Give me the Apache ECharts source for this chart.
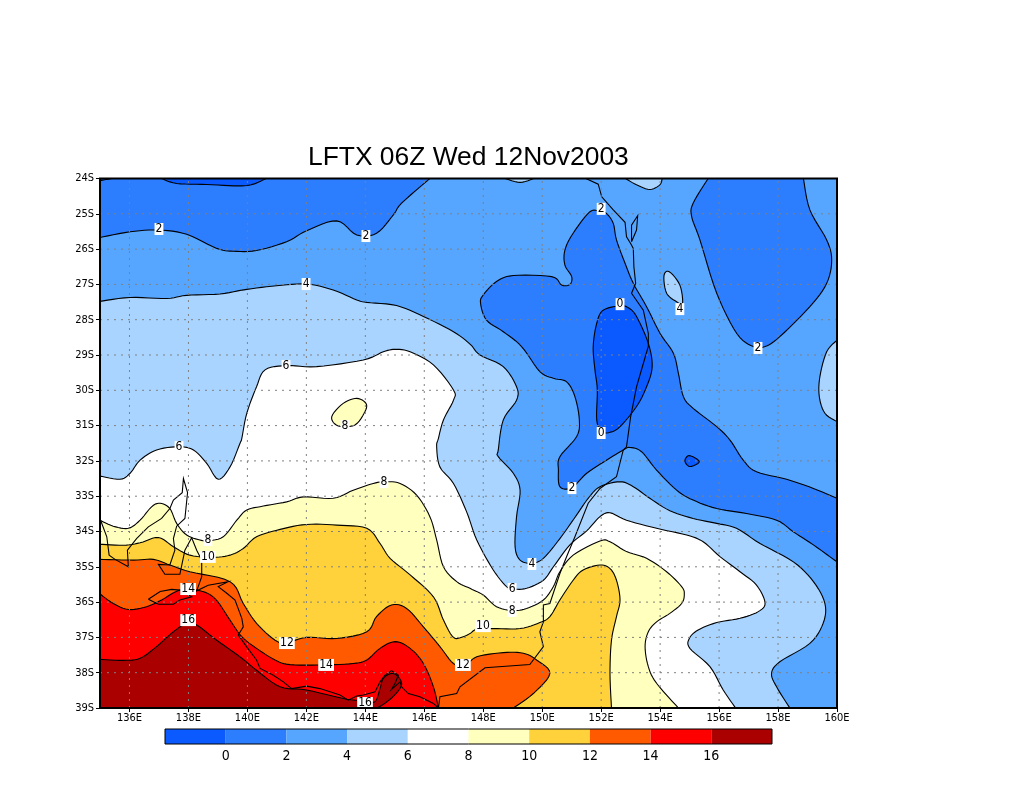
<!DOCTYPE html>
<html>
<head>
<meta charset="utf-8">
<title>LFTX 06Z Wed 12Nov2003</title>
<script src="https://cdn.jsdelivr.net/npm/echarts@6/dist/echarts.min.js"></script>
<style>
  html, body { margin: 0; padding: 0; background: #fff; }
  #chart { width: 1024px; height: 800px; }
</style>
</head>
<body>
<div id="chart"></div>
<script>
// tick labels
var lonTicks = [136, 138, 140, 142, 144, 146, 148, 150, 152, 154, 156, 158, 160];
var latTicks = [-25, -26, -27, -28, -29, -30, -31, -32, -33, -34, -35, -36, -37, -38];
var colorLevels = [-2, 0, 2, 4, 6, 8, 10, 12, 14, 16, 18];
var colorBins = ["#0a5aff", "#2d7dff", "#56a5ff", "#a9d4ff", "#ffffff", "#ffffbe", "#ffd23c", "#ff5a00", "#ff0000", "#aa0000"];

// contour regions, [lon, lat]
var below0Top = [[137.09,-24],[137.6,-24.14],[138.62,-24.17],[139.69,-24.21],[140.2,-24.16],[140.63,-24]];
var below0Corner = [[135,-24],[135,-24.06],[135.4,-24]];
var below0Centre = [[152.64,-27.61],[152.07,-27.73],[151.85,-28.1],[151.73,-28.76],[151.79,-29.43],[151.87,-29.99],[151.85,-30.84],[152.02,-31.17],[152.3,-31.19],[152.64,-31.03],[153.2,-30.46],[153.54,-29.9],[153.73,-29.33],[153.6,-28.67],[153.2,-27.91],[152.92,-27.66]];
var below0Small = [[154.99,-31.85],[154.84,-32],[155.01,-32.16],[155.33,-32.02]];

var below2West = [[135,-25.67],[136.02,-25.51],[136.98,-25.46],[137.94,-25.58],[138.96,-25.98],[139.52,-26.06],[140.31,-26.04],[141.33,-25.79],[142.01,-25.48],[143.03,-25.2],[143.71,-25.6],[144.38,-25.55],[144.95,-25.03],[145.23,-24.7],[146.19,-24],[135,-24]];
var below2Centre = [[151.96,-24.94],[151.62,-24.94],[151.05,-25.55],[150.77,-26.03],[150.77,-26.45],[151,-26.78],[150.94,-27],[150.66,-27.02],[150.32,-26.78],[149.02,-26.75],[148.45,-26.92],[148,-27.3],[147.91,-27.54],[148.11,-28.01],[148.68,-28.34],[149.3,-28.76],[149.92,-29.47],[150.38,-29.66],[150.83,-29.76],[151.11,-30.18],[151.26,-30.84],[151.17,-31.31],[150.6,-31.88],[150.55,-32.26],[150.6,-32.73],[151,-32.76],[151.51,-32.35],[152.18,-31.98],[152.75,-31.69],[152.98,-31.62],[153.37,-31.74],[153.88,-32.26],[154.56,-32.83],[155.12,-33.11],[155.92,-33.35],[156.93,-33.49],[157.95,-33.68],[158.52,-34.01],[159.2,-34.38],[160,-34.86],[160,-33.06],[159.2,-32.78],[158.29,-32.52],[157.27,-32.31],[156.82,-31.98],[156.37,-31.41],[155.92,-31.03],[155.12,-30.51],[154.79,-30.18],[154.62,-29.52],[154.45,-28.95],[154,-28.39],[153.54,-27.63],[153.09,-26.97],[152.81,-26.4],[152.52,-25.74],[152.41,-25.27],[152.18,-24.99]];
var below2East = [[155.63,-24],[155.12,-24.7],[155.07,-25.08],[155.35,-25.74],[155.92,-27.25],[156.6,-28.39],[157.16,-28.76],[157.56,-28.76],[158.06,-28.48],[159.08,-27.63],[159.65,-26.97],[159.82,-26.31],[159.65,-25.74],[159.08,-24.89],[158.86,-24]];

var above4Main = [[135,-27.48],[136.02,-27.37],[137.26,-27.4],[137.94,-27.31],[139.07,-27.27],[139.98,-27.14],[140.99,-27.04],[142.01,-26.99],[142.91,-27.16],[143.71,-27.44],[144.05,-27.51],[145.06,-27.6],[145.97,-27.91],[146.99,-28.34],[147.55,-28.69],[147.89,-29],[148.68,-29.33],[149.13,-29.9],[149.13,-30.28],[148.68,-30.84],[148.51,-31.69],[148.51,-31.88],[149.02,-32.35],[149.25,-32.83],[149.13,-33.58],[149.08,-34.43],[149.25,-34.81],[149.64,-34.9],[150.04,-34.76],[150.6,-34.2],[151.17,-33.53],[151.56,-33.06],[151.96,-32.73],[152.64,-32.59],[153.09,-32.73],[153.65,-33.06],[154.33,-33.41],[155.12,-33.63],[155.92,-33.77],[156.59,-33.91],[157.39,-34.34],[158.52,-34.86],[159.2,-35.42],[159.59,-36.04],[159.53,-36.6],[159.08,-37.17],[158.06,-37.69],[157.78,-38.02],[157.95,-38.4],[158.4,-39],[135,-39]];
var above4TopA = [[148.74,-24],[149.25,-24.11],[149.72,-24]];
var above4TopB = [[152.83,-24],[153.2,-24.18],[153.65,-24.31],[153.99,-24.18],[154.07,-24]];
var above4Small = [[154.31,-26.64],[154.13,-26.76],[154.22,-27.25],[154.56,-27.49],[154.76,-27.54],[154.67,-27.02]];
var above4East = [[160,-28.58],[159.65,-28.91],[159.42,-29.61],[159.4,-30.18],[159.59,-30.65],[160,-30.89]];

var above6Main = [[135,-32.43],[135.68,-32.52],[136.02,-32.35],[136.36,-31.98],[136.92,-31.69],[137.66,-31.6],[138.17,-31.69],[138.62,-32.07],[139.01,-32.52],[139.41,-32.17],[139.75,-31.5],[139.81,-31.36],[139.98,-30.65],[140.31,-29.9],[140.6,-29.42],[141.33,-29.3],[142.35,-29.33],[143.93,-29.14],[144.61,-28.91],[145.01,-28.84],[145.52,-28.91],[146.31,-29.28],[146.99,-29.99],[146.99,-30.28],[146.65,-30.84],[146.48,-31.36],[146.42,-31.6],[146.53,-32.17],[146.99,-32.64],[147.44,-33.45],[147.78,-34.24],[148.34,-35.09],[148.79,-35.56],[149.02,-35.63],[149.47,-35.61],[150.04,-35.38],[150.38,-35],[150.94,-34.38],[151.51,-33.98],[151.96,-33.58],[152.3,-33.47],[152.86,-33.68],[153.88,-33.91],[154.9,-34.1],[155.46,-34.29],[156.03,-34.71],[156.71,-35.14],[157.27,-35.52],[157.56,-36.02],[157.33,-36.27],[156.71,-36.46],[155.92,-36.58],[155.29,-36.79],[154.99,-37.03],[155.01,-37.31],[155.69,-37.83],[156.14,-38.49],[156.56,-39],[135,-39]];

var above8Main = [[135,-33.68],[135.45,-33.85],[135.96,-33.91],[136.36,-33.68],[136.75,-33.3],[137.04,-33.2],[137.37,-33.35],[137.6,-33.77],[137.94,-34.1],[138.39,-34.24],[138.67,-34.26],[139.18,-34.15],[139.64,-33.68],[139.98,-33.39],[140.54,-33.28],[141.33,-33.16],[141.9,-33.02],[142.91,-33.06],[143.59,-32.83],[144.27,-32.64],[144.67,-32.59],[145.18,-32.64],[145.74,-32.97],[146.19,-33.58],[146.42,-34.24],[146.65,-35],[147.1,-35.42],[147.55,-35.61],[148,-35.8],[148.45,-36.13],[149,-36.24],[149.47,-36.18],[150.04,-35.94],[150.38,-35.56],[150.6,-35.14],[151.05,-34.67],[151.96,-34.27],[152.3,-34.29],[152.86,-34.57],[153.54,-34.76],[154.22,-35.14],[154.73,-35.56],[154.82,-35.78],[154.73,-36.04],[154.33,-36.32],[153.88,-36.56],[153.6,-36.84],[153.49,-37.26],[153.6,-37.83],[153.88,-38.3],[154.62,-39],[135,-39]];
var above8Small = [[143.71,-30.23],[143.25,-30.37],[142.86,-30.75],[143.08,-31.01],[143.65,-30.98],[143.99,-30.6],[144.02,-30.37]];

var above10Main = [[135,-34.36],[135.79,-34.39],[136.36,-34.32],[136.98,-34.17],[137.49,-34.43],[138.05,-34.67],[138.84,-34.73],[139.41,-34.67],[139.86,-34.48],[140.31,-34.15],[141.11,-33.94],[142.01,-33.8],[143.03,-33.82],[144.05,-33.91],[144.5,-34.34],[144.84,-34.76],[145.52,-35.23],[146.31,-35.85],[146.65,-36.51],[146.99,-37],[147.32,-36.98],[147.55,-36.89],[147.78,-36.77],[148.34,-36.75],[149.25,-36.75],[149.92,-36.58],[150.26,-36.41],[150.6,-35.94],[151.05,-35.38],[151.39,-35.09],[151.96,-34.95],[152.3,-35.05],[152.52,-35.38],[152.64,-35.94],[152.52,-36.41],[152.35,-37.08],[152.3,-38.02],[152.35,-39],[135,-39]];

var above12Main = [[135,-34.79],[136.13,-34.81],[136.81,-34.79],[137.37,-34.95],[138.05,-35.14],[139.41,-35.42],[139.86,-36.04],[140.31,-36.6],[140.94,-37.08],[141.33,-37.15],[142.01,-37],[143.03,-37.03],[144.05,-36.84],[144.38,-36.41],[144.89,-36.08],[145.4,-36.18],[145.97,-36.7],[146.53,-37.26],[146.99,-37.74],[147.38,-37.8],[147.78,-37.55],[148.68,-37.43],[149.36,-37.45],[149.81,-37.64],[150.26,-38.02],[149.7,-38.59],[149.02,-39],[135,-39]];

var above14Main = [[135,-35.77],[135.45,-36.04],[135.96,-36.21],[136.58,-36.13],[137.09,-35.94],[137.71,-35.66],[138.39,-35.68],[138.9,-35.9],[139.41,-36.51],[139.81,-36.98],[140.31,-37.31],[140.94,-37.64],[141.44,-37.77],[142.58,-37.78],[143.59,-37.74],[144.05,-37.64],[144.5,-37.31],[145.01,-37.12],[145.52,-37.31],[145.97,-37.74],[146.31,-38.4],[146.48,-39],[135,-39]];

var above16Main = [[135,-37.62],[135.79,-37.65],[136.36,-37.59],[136.92,-37.26],[137.49,-36.84],[137.94,-36.6],[138.28,-36.65],[138.96,-37.08],[139.75,-37.55],[140.31,-37.93],[141.11,-38.4],[142.01,-38.49],[143.37,-38.75],[143.99,-38.78],[144.33,-38.82],[144.5,-38.45],[144.61,-38.16],[144.89,-38.02],[145.12,-38.12],[145.23,-38.35],[145,-38.63],[144.66,-38.87],[144.4,-39],[135,-39]];

// coastlines
var coastMain = [[135.02,-33.68],[135.23,-34.15],[135.31,-34.67],[135.51,-34.79],[135.96,-35],[135.93,-34.53],[136.24,-34.2],[136.64,-33.87],[137.09,-33.63],[137.37,-33.35],[137.49,-33.11],[137.79,-32.9],[137.83,-32.5],[137.97,-32.9],[137.88,-33.63],[137.6,-33.85],[137.49,-34.2],[137.54,-34.53],[137.37,-34.95],[136.98,-34.93],[137.2,-35.21],[137.71,-35.21],[137.88,-34.53],[138.11,-34.18],[138.28,-34.53],[138.45,-34.81],[138.45,-35.28],[138.28,-35.68],[138.67,-35.52],[139.35,-35.42],[139.01,-35.56],[139.3,-35.75],[139.58,-35.94],[139.81,-36.46],[139.86,-36.7],[139.69,-36.93],[139.97,-37.26],[140.31,-37.64],[140.43,-37.88],[140.88,-38.07],[141.22,-38.26],[141.5,-38.45],[142.01,-38.38],[142.46,-38.45],[143.14,-38.63],[143.42,-38.78],[143.71,-38.66],[143.93,-38.63],[144.33,-38.54],[144.5,-38.26],[144.67,-38.07],[144.89,-37.94],[145.12,-38.07],[145.01,-38.3],[144.89,-38.47],[145.18,-38.26],[145.23,-38.4],[145.46,-38.59],[145.85,-38.68],[146.31,-38.87],[146.48,-39],[146.53,-38.68],[147.1,-38.59],[147.21,-38.4],[148.06,-37.86],[149.58,-37.77],[150.04,-37.26],[149.92,-36.84],[150.04,-36.56],[150.04,-36.08],[150.26,-36.04],[150.6,-35.19],[150.83,-34.71],[151.11,-34.15],[151.56,-33.2],[151.96,-32.78],[152.52,-32.45],[152.75,-31.69],[152.86,-31.6],[153,-30.75],[153.2,-29.9],[153.43,-29.24],[153.6,-28.76],[153.6,-28.39],[153.43,-27.73],[153.03,-27.25],[153.17,-26.97],[153.11,-26.5],[153.09,-25.98],[153,-25.84],[152.86,-25.65],[152.81,-25.24],[152.41,-24.89],[152.02,-24.52],[151.9,-24.16],[151.48,-24]];
var coastFraser = [[153.03,-25.79],[153.03,-25.32],[153.24,-25.05],[153.2,-25.46],[153.03,-25.79]];
var coastKangaroo = [[136.64,-35.92],[137.04,-35.7],[137.43,-35.64],[137.71,-35.66],[138.11,-35.85],[137.71,-35.94],[137.49,-36.06],[136.98,-36.06],[136.64,-35.92]];

// contour labels
var labelLons = [137, 144.02, 141.99, 141.31, 143.31, 137.68, 144.63, 138.66, 138.66, 137.99, 137.99, 141.34, 142.67, 143.99, 147.31, 147.99, 148.98, 148.98, 149.65, 151.01, 152, 152.64, 154.67, 152, 157.32];
var labelLats = [-25.43, -25.63, -26.99, -29.31, -31.01, -31.61, -32.6, -34.24, -34.72, -35.63, -36.51, -37.16, -37.78, -38.86, -37.78, -36.68, -36.25, -35.63, -34.92, -32.77, -31.21, -27.56, -27.7, -24.86, -28.8];
var labelValues = [2, 2, 4, 6, 8, 6, 8, 8, 10, 14, 16, 12, 14, 16, 12, 10, 8, 6, 4, 2, 0, 0, 4, 2, 2];

var tickFont = "'DejaVu Sans Condensed', 'DejaVu Sans', sans-serif";

var myChart = echarts.init(document.getElementById("chart"));

// painted in this order, later regions sit on top
var regions = [
  [above4Main, 3], [above4TopA, 3], [above4TopB, 3], [above4Small, 3], [above4East, 3],
  [above6Main, 4],
  [above8Main, 5], [above8Small, 5],
  [above10Main, 6],
  [above12Main, 7],
  [above14Main, 8],
  [above16Main, 9],
  [below2West, 1], [below2Centre, 1], [below2East, 1],
  [below0Top, 0], [below0Corner, 0], [below0Centre, 0], [below0Small, 0]
];

var coasts = [coastMain, coastFraser, coastKangaroo];

// dotted grid lines
var gridSegments = [];
lonTicks.slice(0, -1).forEach(function (lon) {
  gridSegments.push([lon, -39, lon, -24]);
});
latTicks.forEach(function (lat) {
  gridSegments.push([135, lat, 160, lat]);
});

function toPoints(api, list) {
  return list.map(function (p) {
    return api.coord(p);
  });
}

function onFrame(a, b) {
  return (a[0] === b[0] && (a[0] === 135 || a[0] === 160)) ||
    (a[1] === b[1] && (a[1] === -24 || a[1] === -39));
}

// rounds the contour the way smooth:true would, runs along the plot edge stay straight
function smoothRing(pts) {
  var n = pts.length, out = [];
  for (var i = 0; i < n; i++) {
    var p1 = pts[i], p2 = pts[(i + 1) % n];
    out.push(p1);
    if (onFrame(p1, p2)) continue;
    var p0 = pts[(i - 1 + n) % n], p3 = pts[(i + 2) % n];
    if (onFrame(p0, p1)) p0 = p1;
    if (onFrame(p2, p3)) p3 = p2;
    for (var k = 1; k < 6; k++) {
      var t = k / 6, t2 = t * t, t3 = t2 * t;
      out.push([0, 1].map(function (d) {
        return 0.5 * (2 * p1[d] + (p2[d] - p0[d]) * t +
          (2 * p0[d] - 5 * p1[d] + 4 * p2[d] - p3[d]) * t2 +
          (3 * p1[d] - p0[d] - 3 * p2[d] + p3[d]) * t3);
      }));
    }
  }
  return out;
}

var option = {
  backgroundColor: "#fff",
  animation: false,
  title: {
    text: "LFTX 06Z Wed 12Nov2003",
    left: 308,
    top: 145,
    padding: 0,
    textStyle: {
      color: "#000",
      fontFamily: "Liberation Sans",
      fontSize: 26.4,
      fontWeight: "normal"
    }
  },
  grid: [
    { left: 100, top: 178.5, width: 737, height: 529.5 },
    { left: 165, top: 729, width: 607, height: 15 }
  ],
  xAxis: [
    {
      type: "value",
      gridIndex: 0,
      min: 135,
      max: 160,
      axisLine: { show: false },
      splitLine: { show: false },
      axisTick: { length: 4, customValues: lonTicks, lineStyle: { color: "#000" } },
      axisLabel: {
        customValues: lonTicks,
        margin: 5,
        color: "#000",
        fontFamily: tickFont,
        fontSize: 11,
        formatter: function (v) { return v + "E"; }
      }
    },
    {
      type: "value",
      gridIndex: 1,
      min: -2,
      max: 18,
      interval: 2,
      axisLine: { show: false },
      axisTick: { show: false },
      splitLine: { show: false },
      axisLabel: {
        showMinLabel: false,
        showMaxLabel: false,
        margin: 5,
        color: "#000",
        fontFamily: tickFont,
        fontSize: 14
      }
    }
  ],
  yAxis: [
    {
      type: "value",
      gridIndex: 0,
      min: -39,
      max: -24,
      interval: 1,
      axisLine: { show: false },
      splitLine: { show: false },
      axisTick: { show: true, length: 4, lineStyle: { color: "#000" } },
      axisLabel: {
        margin: 6,
        color: "#000",
        fontFamily: tickFont,
        fontSize: 11,
        formatter: function (v) { return -v + "S"; }
      }
    },
    { type: "value", gridIndex: 1, min: 0, max: 1, show: false }
  ],
  series: [
    // plot background, the 2 to 4 band
    {
      type: "custom",
      z: 1,
      data: [[135, -39, 160, -24]],
      renderItem: function (params, api) {
        var a = api.coord([api.value(0), api.value(1)]);
        var b = api.coord([api.value(2), api.value(3)]);
        return {
          type: "rect",
          shape: { x: a[0], y: b[1], width: b[0] - a[0], height: a[1] - b[1] },
          style: { fill: colorBins[2] }
        };
      }
    },
    // filled contour regions
    {
      type: "custom",
      z: 2,
      clip: true,
      data: regions.map(function (r) { return r[0][0]; }),
      renderItem: function (params, api) {
        var r = regions[params.dataIndex];
        return {
          type: "polygon",
          shape: { points: toPoints(api, smoothRing(r[0])) },
          style: { fill: colorBins[r[1]], stroke: "#000", lineWidth: 1.1 }
        };
      }
    },
    // coast
    {
      type: "custom",
      z: 3,
      clip: true,
      data: coasts.map(function (c) { return c[0]; }),
      renderItem: function (params, api) {
        return {
          type: "polyline",
          shape: { points: toPoints(api, coasts[params.dataIndex]) },
          style: { fill: null, stroke: "#000", lineWidth: 1.1 }
        };
      }
    },
    // grid lines
    {
      type: "custom",
      z: 4,
      data: gridSegments,
      renderItem: function (params, api) {
        var a = api.coord([api.value(0), api.value(1)]);
        var b = api.coord([api.value(2), api.value(3)]);
        return {
          type: "line",
          shape: { x1: a[0], y1: a[1], x2: b[0], y2: b[1] },
          style: { stroke: "#808080", lineWidth: 1, lineDash: [2, 5] }
        };
      }
    },
    // contour labels
    {
      type: "scatter",
      z: 5,
      symbolSize: 1,
      itemStyle: { color: "transparent", opacity: 1 },
      data: labelLons.map(function (lon, i) {
        return [lon, labelLats[i], labelValues[i]];
      }),
      label: {
        show: true,
        position: "inside",
        color: "#000",
        fontFamily: tickFont,
        fontSize: 12,
        lineHeight: 12,
        backgroundColor: "#fff",
        padding: [0, 1, 0, 1],
        formatter: function (p) { return p.value[2]; }
      }
    },
    // plot frame
    {
      type: "custom",
      z: 6,
      clip: false,
      data: [[135, -39, 160, -24]],
      renderItem: function (params, api) {
        var a = api.coord([api.value(0), api.value(1)]);
        var b = api.coord([api.value(2), api.value(3)]);
        return {
          type: "rect",
          shape: { x: a[0], y: b[1], width: b[0] - a[0], height: a[1] - b[1] },
          style: { fill: null, stroke: "#000", lineWidth: 2 }
        };
      }
    },
    // colour bar
    {
      type: "custom",
      xAxisIndex: 1,
      yAxisIndex: 1,
      z: 2,
      data: colorBins.map(function (c, i) { return [colorLevels[i], colorLevels[i + 1]]; }),
      renderItem: function (params, api) {
        var a = api.coord([api.value(0), 0]);
        var b = api.coord([api.value(1), 1]);
        return {
          type: "rect",
          shape: { x: a[0], y: b[1], width: b[0] - a[0], height: a[1] - b[1] },
          style: { fill: colorBins[params.dataIndex] }
        };
      }
    },
    {
      type: "custom",
      xAxisIndex: 1,
      yAxisIndex: 1,
      z: 3,
      clip: false,
      data: [[colorLevels[0], colorLevels[colorLevels.length - 1]]],
      renderItem: function (params, api) {
        var a = api.coord([api.value(0), 0]);
        var b = api.coord([api.value(1), 1]);
        return {
          type: "rect",
          shape: { x: a[0], y: b[1], width: b[0] - a[0], height: a[1] - b[1] },
          style: { fill: null, stroke: "#000", lineWidth: 1 }
        };
      }
    }
  ]
};

myChart.setOption(option);
window.addEventListener("resize", function () {
  myChart.resize();
});
</script>
</body>
</html>
